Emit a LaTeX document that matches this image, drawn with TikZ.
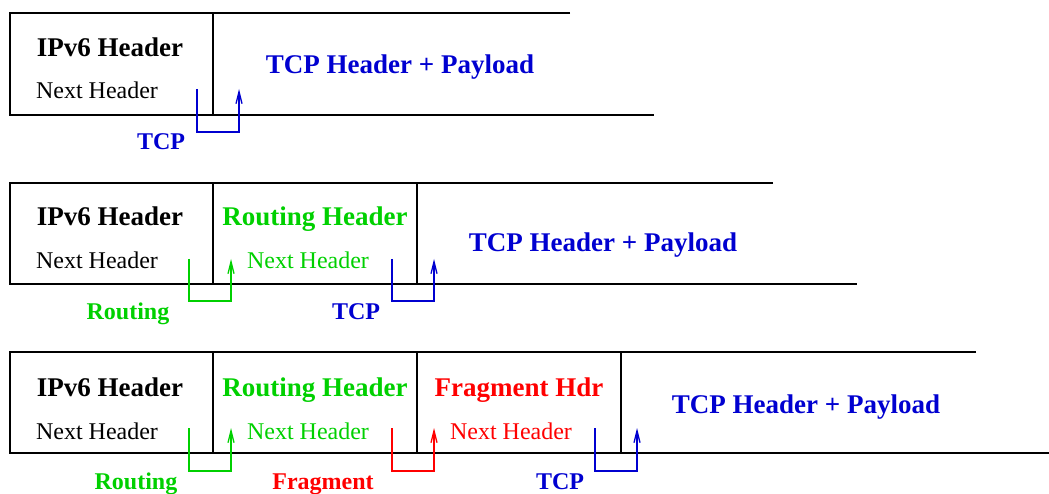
\documentclass[tikz,border=0pt]{standalone}
\usepackage{fontspec}
\setmainfont{Liberation Serif}
\usepackage{xcolor}
\definecolor{Blue Two}{HTML}{0000d0}
\definecolor{Green Two}{HTML}{00d000}
\definecolor{Pure Red}{HTML}{ff0000}
\colorlet{cBlue}{Blue Two}
\colorlet{cGreen}{Green Two}
\colorlet{cRed}{Pure Red}
\usepackage{tikz}
\usetikzlibrary{arrows.meta}
\tikzset{
	x = 1pt,
	y = -1pt,
	frame/.style={
		draw,
		line width=1.6pt
	},
	title/.style={
		anchor=base,
		font=\bfseries\fontsize{27}{30}\selectfont
	},
	field/.style={
		anchor=base,
		font=\fontsize{24}{28}\selectfont
	},
	tag/.style={
		anchor=base,
		font=\bfseries\fontsize{24}{28}\selectfont
	},
	nextarrow/.style={
		line width=1.3pt,
		arrows = {-Straight Barb[length=12pt, width=6pt]}
	}
}

\begin{document}
\begin{tikzpicture}
\useasboundingbox (0,0) rectangle (1049,494);
% ---
% IPv6 + TCP
% ---
\draw[frame] (570,13) -- (10,13) -- (10,115) -- (654,115);
\draw[frame] (213,13) -- (213,115);
\node[title] at (110,57) (ipv1) {IPv6 Header};
\node[field] at (97,99) (nh1) {Next Header};
\node[title, color=cBlue] at (400,74) (tcp1) {TCP Header + Payload};
\coordinate (t1s) at (197,89);
\coordinate (t1e) at (239,89);
\draw[nextarrow, color=cBlue] (t1s) -- ++(0,43) -| (t1e);
\node[tag, color=cBlue] at (161,150) (t1) {TCP};

% ---
% IPv6 + Routing + TCP
% ---
\draw[frame] (773,183) -- (10,183) -- (10,284) -- (857,284);
\draw[frame] (213,183) -- (213,284);
\draw[frame] (417,183) -- (417,284);
\node[title] at (110,226) (ipv2) {IPv6 Header};
\node[field] at (97,269) (nh2) {Next Header};
\node[title, color=cGreen] at (315,226) (rt2) {Routing Header};
\node[field, color=cGreen] at (308,269) (rtnh2) {Next Header};
\node[title, color=cBlue] at (603,252) (tcp2) {TCP Header + Payload};
\coordinate (r2s) at (189,259);
\coordinate (r2e) at (231,259);
\coordinate (t2s) at (392,259);
\coordinate (t2e) at (434,259);
\draw[nextarrow, color=cGreen] (r2s) -- ++(0,42) -| (r2e);
\draw[nextarrow, color=cBlue] (t2s) -- ++(0,42) -| (t2e);
\node[tag, color=cGreen] at (128,319) (r2) {Routing};
\node[tag, color=cBlue] at (356,319) (t2) {TCP};

% ---
% IPv6 + Routing + Fragment + TCP
% ---
\draw[frame] (976,352) -- (10,352) -- (10,453) -- (1049,453);
\foreach \x in {213,417,621}
	\draw[frame] (\x,352) -- (\x,453);
\node[title] at (110,396) (ipv3) {IPv6 Header};
\node[field] at (97,439) (nh3) {Next Header};
\node[title, color=cGreen] at (315,396) (rt3) {Routing Header};
\node[field, color=cGreen] at (308,439) (rtnh3) {Next Header};
\node[title, color=cRed] at (519,396) (fr3) {Fragment Hdr};
\node[field, color=cRed] at (511,439) (frnh3) {Next Header};
\node[title, color=cBlue] at (806,413) (tcp3) {TCP Header + Payload};
\coordinate (r3s) at (189,428);
\coordinate (r3e) at (231,428);
\coordinate (f3s) at (392,428);
\coordinate (f3e) at (434,428);
\coordinate (t3s) at (595,428);
\coordinate (t3e) at (637,428);
\draw[nextarrow, color=cGreen] (r3s) -- ++(0,43) -| (r3e);
\draw[nextarrow, color=cRed] (f3s) -- ++(0,43) -| (f3e);
\draw[nextarrow, color=cBlue] (t3s) -- ++(0,43) -| (t3e);
\node[tag, color=cGreen] at (136,489) (r3) {Routing};
\node[tag, color=cRed] at (323,489) (f3) {Fragment};
\node[tag, color=cBlue] at (560,489) (t3) {TCP};
\end{tikzpicture}
\end{document}
